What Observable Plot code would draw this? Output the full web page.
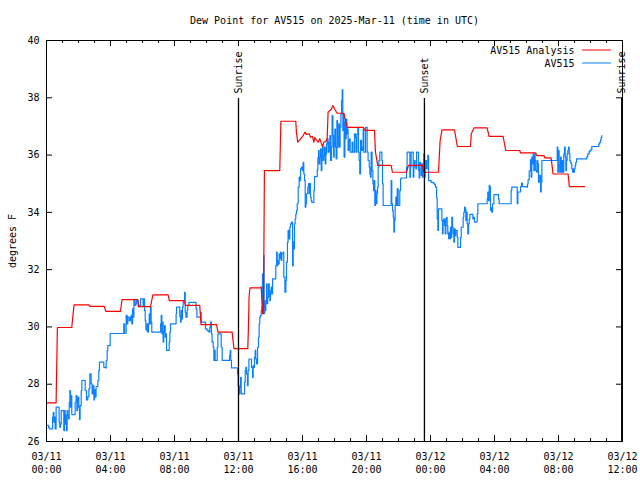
<!DOCTYPE html>
<html><head><meta charset="utf-8">
<script src="https://cdn.jsdelivr.net/npm/d3@7"></script>
<script src="https://cdn.jsdelivr.net/npm/@observablehq/plot@0.6"></script>
<style>body{margin:0;background:#fff}#chart svg{display:block}</style>
</head><body><div id="chart"></div>
<script>
const title = "Dew Point for AV515 on 2025-Mar-11 (time in UTC)";
const yLabel = "degrees F";
const startDate = "2025-03-11T00:00:00Z";
const spanHours = 36;
const yTicks = [26, 28, 30, 32, 34, 36, 38, 40];
const xMajorHours = [0, 4, 8, 12, 16, 20, 24, 28, 32, 36];
const xMinorHours = [1, 2, 3, 5, 6, 7, 9, 10, 11, 13, 14, 15, 17, 18, 19, 21, 22, 23, 25, 26, 27, 29, 30, 31, 33, 34, 35];
const eventNames = ["Sunrise", "Sunset", "Sunrise"];
const eventHours = [12.0, 23.62, 35.95];
const seriesNames = ["AV515 Analysis", "AV515"];

// AV515 Analysis (hours since 03/11 00:00 UTC, degrees F)
const analysisHours = [0, 0.6, 0.68, 1.58, 1.72, 2.65, 2.7, 3.6, 3.72, 4.62, 4.72, 5.7, 5.75, 6.5, 6.65, 7.6, 7.68, 8.58, 8.7, 9.58, 9.62, 9.66, 10.63, 10.72, 11.6, 11.72, 12.58, 12.62, 12.66, 12.72, 13.38, 13.42, 13.5, 13.56, 13.62, 14.58, 14.65, 15.58, 15.62, 15.7, 15.83, 16.04, 16.15, 16.25, 16.42, 16.5, 16.62, 16.71, 16.77, 16.88, 16.98, 17.08, 17.19, 17.25, 17.33, 17.46, 17.54, 17.6, 17.8, 17.9, 18.0, 18.17, 18.58, 18.8, 19.79, 19.92, 20.5, 20.56, 20.7, 21.54, 21.62, 22.5, 22.62, 23.5, 23.58, 24.5, 24.6, 24.72, 25.5, 25.68, 26.5, 26.55, 26.72, 27.54, 27.66, 28.54, 28.7, 29.58, 29.62, 30.56, 30.66, 31.1, 31.15, 31.54, 31.66, 32.6, 32.68, 33.64];
const analysisValues = [27.35, 27.35, 29.98, 29.98, 30.77, 30.77, 30.72, 30.72, 30.54, 30.54, 30.95, 30.95, 30.71, 30.71, 31.12, 31.12, 30.92, 30.92, 30.75, 30.75, 30.38, 30.08, 30.08, 29.82, 29.82, 29.24, 29.24, 29.95, 31.04, 31.36, 31.36, 31.4, 30.46, 30.46, 35.46, 35.46, 37.18, 37.18, 36.8, 36.45, 36.53, 36.68, 36.8, 36.72, 36.74, 36.62, 36.65, 36.45, 36.62, 36.51, 36.45, 36.57, 36.39, 36.3, 36.45, 36.48, 36.57, 37.5, 37.6, 37.73, 37.61, 37.46, 37.46, 36.97, 36.97, 36.86, 36.86, 36.1, 35.64, 35.64, 35.4, 35.4, 35.64, 35.64, 35.4, 35.4, 36.5, 36.88, 36.88, 36.3, 36.3, 36.74, 36.95, 36.95, 36.65, 36.65, 36.16, 36.16, 36.08, 36.08, 35.98, 35.98, 35.9, 35.9, 35.34, 35.34, 34.9, 34.9];

// AV515 observations
const obsHours = [0.04, 0.13, 0.19, 0.38, 0.42, 0.46, 0.5, 0.54, 0.6, 0.79, 0.83, 0.88, 0.92, 1.08, 1.13, 1.17, 1.21, 1.25, 1.29, 1.33, 1.38, 1.42, 1.46, 1.5, 1.54, 1.58, 1.79, 1.85, 1.9, 1.94, 1.98, 2.02, 2.06, 2.1, 2.17, 2.21, 2.42, 2.5, 2.58, 2.65, 2.71, 2.79, 2.85, 2.92, 2.96, 3.0, 3.06, 3.1, 3.21, 3.27, 3.31, 3.58, 3.69, 3.73, 3.79, 3.83, 3.98, 4.83, 4.88, 4.98, 5.04, 5.08, 5.17, 5.25, 5.29, 5.33, 5.38, 5.42, 5.46, 5.54, 5.58, 5.63, 5.75, 5.88,
  6.04, 6.08, 6.13, 6.17, 6.21, 6.25, 6.29, 6.33, 6.38, 6.42, 6.46, 6.5, 6.54, 6.58, 7.13, 7.17, 7.21, 7.25, 7.29, 7.33, 7.38, 7.42, 7.46, 7.5, 7.67, 7.71, 7.75, 8.1, 8.13, 8.33, 8.38, 8.42, 8.46, 8.5, 8.54, 8.58, 8.63, 8.67, 8.71, 8.79, 8.83, 8.9, 9.35, 9.4, 9.63, 9.67, 9.94, 10.04, 10.15, 10.21, 10.25, 10.31, 10.35, 10.42, 10.46, 10.5, 10.54, 10.67, 10.71, 10.92, 10.98, 11.44, 11.48, 11.52, 11.56,
  11.94, 11.98, 12.04, 12.08, 12.13, 12.17, 12.38, 12.42, 12.46, 12.5, 12.56, 12.6, 12.65, 12.81, 12.88, 12.92, 12.96, 13.0, 13.04, 13.08, 13.13, 13.19, 13.25, 13.29, 13.33, 13.38, 13.42, 13.46, 13.5, 13.54, 13.58, 13.6, 13.63, 13.67, 13.71, 13.75, 13.79, 13.83, 13.88, 13.92, 13.96, 14.0, 14.04, 14.08, 14.13, 14.33, 14.38, 14.42, 14.46, 14.5, 14.54, 14.58, 14.63, 14.67, 14.71, 14.79, 14.83, 14.9, 14.96, 15.0, 15.06, 15.1, 15.15, 15.21, 15.25, 15.31, 15.38, 15.42, 15.46, 15.5, 15.54, 15.58, 15.63, 15.67,
  15.73, 15.79, 15.83, 15.88, 15.94, 16.0, 16.04, 16.08, 16.13, 16.17, 16.21, 16.25, 16.33, 16.38, 16.42, 16.46, 16.5, 16.54, 16.58, 16.71, 16.75, 16.92, 16.96, 17.0, 17.04, 17.08, 17.13, 17.17, 17.21, 17.25, 17.29, 17.33, 17.38, 17.42, 17.46, 17.5, 17.54, 17.6, 17.67, 17.71,
  17.75, 17.81, 17.85, 17.9, 17.94, 17.98, 18.02, 18.06, 18.1, 18.15, 18.19, 18.23, 18.27, 18.31, 18.35, 18.4, 18.44, 18.48, 18.52, 18.56, 18.6, 18.65, 18.69, 18.73, 18.77, 18.81, 18.85, 18.9, 18.94, 18.98, 19.1, 19.15, 19.25, 19.31, 19.35, 19.4, 19.46, 19.5, 19.54, 19.58, 19.63, 19.69, 19.75, 19.79, 19.83, 19.94, 20.04, 20.1, 20.17, 20.21, 20.25, 20.29, 20.35, 20.4, 20.44, 20.48, 20.52, 20.56, 20.6, 20.65, 20.69, 20.73, 20.77, 20.83, 20.96, 21.0, 21.04, 21.54, 21.58, 21.63, 21.67, 21.71, 21.75, 21.79, 21.83, 21.88, 21.92, 21.98, 22.08, 22.13, 22.17, 22.5, 22.54, 22.71, 22.75, 22.79, 22.92, 22.96, 23.0, 23.04, 23.08, 23.13, 23.25, 23.29, 23.33,
  23.38, 23.42, 23.46, 23.5, 23.54, 23.58, 23.63, 23.67, 23.71, 23.75, 23.79, 23.83, 23.88, 24.04, 24.17, 24.25, 24.31, 24.38, 24.42, 24.46, 24.5, 24.71, 24.75, 24.79, 24.83, 24.88, 24.92, 24.96, 25.0, 25.04, 25.08, 25.13, 25.17, 25.21, 25.25, 25.29, 25.33, 25.38, 25.42, 25.46, 25.5, 25.54, 25.58, 25.67, 25.71, 25.88, 25.92, 26.04, 26.08, 26.13, 26.17, 26.21, 26.25, 26.29, 26.33, 26.38, 26.42, 26.46, 26.65, 26.71, 26.75, 26.92, 26.96, 27.54, 27.58, 27.63, 27.67, 27.71, 27.75, 27.79, 27.83, 27.88, 27.96, 28.25, 28.29, 29.04, 29.08, 29.42, 29.46, 29.63, 29.69, 29.75, 30.0, 30.06, 30.1, 30.17, 30.21, 30.25, 30.29, 30.33, 30.38, 30.42, 30.46, 30.5, 30.54, 30.58, 30.63, 30.67, 30.71, 30.75, 30.79, 30.83, 30.88, 30.92, 30.96, 31.92, 31.96, 32.0, 32.04, 32.08, 32.13, 32.17, 32.23, 32.29, 32.33, 32.38, 32.42, 32.46, 32.5, 32.54, 32.58, 32.63, 32.67, 32.71, 32.75, 32.79, 32.83, 32.88, 32.92, 32.96, 33.0, 33.04, 33.08, 33.13, 33.75, 33.83, 33.92, 34.0, 34.08, 34.52, 34.58, 34.63, 34.67, 34.71];
const obsValues = [26.56, 26.48, 26.44, 26.85, 27.02, 26.67, 26.85, 26.44, 27.2, 26.67, 26.5, 26.61, 27.08, 26.38, 27.08, 26.61, 26.91, 26.38, 27.08, 26.91, 26.79, 27.37, 27.78, 27.2, 27.6, 26.94, 27.37, 27.6, 27.08, 27.45, 27.55, 27.2, 26.76, 27.25, 27.78, 28.13, 27.78, 27.45, 27.57, 27.84, 28.36, 28.01, 27.66, 27.95, 27.45, 27.8, 27.55, 27.92, 28.13, 28.48, 28.77, 28.59, 28.57, 28.83, 29.17, 29.35, 29.77, 30.11, 29.78, 30.4, 30.11, 30.34, 30.22, 30.34, 30.4, 30.11, 30.63, 30.34, 30.92, 30.75, 30.8, 30.92, 30.75, 30.98,
  30.71, 30.98, 30.57, 30.22, 29.93, 29.87, 30.11, 29.82, 30.11, 30.46, 30.11, 30.69, 30.17, 29.82, 30.11, 30.4, 29.76, 30.17, 29.47, 29.82, 30.05, 29.64, 29.76, 29.18, 29.47, 29.82, 30.11, 30.46, 30.69, 30.36, 30.17, 30.57, 30.28, 30.69, 30.86, 30.92, 31.21, 30.51, 30.34, 30.6, 30.75, 30.86, 30.63, 30.34, 30.51, 30.17, 29.93, 29.87, 29.82, 29.99, 30.17, 29.76, 29.47, 29.29, 28.83, 29.18, 28.83, 29.29, 29.76, 29.29, 28.83, 29.0, 29.18, 28.83, 28.57,
  28.36, 27.95, 27.66, 27.89, 28.24, 27.66, 28.07, 28.48, 28.59, 28.36, 27.95, 28.48, 28.88, 28.59, 28.24, 28.65, 28.59, 28.94, 29.18, 28.88, 28.71, 29.29, 29.64, 30.11, 30.34, 30.4, 30.57, 30.69, 31.85, 31.39, 32.49, 30.46, 30.92, 30.57, 30.81, 31.5, 30.81, 31.04, 31.5, 31.27, 30.92, 31.15, 31.39, 31.15, 31.68, 32.14, 32.61, 32.14, 32.32, 32.2, 32.55, 32.38, 32.61, 32.32, 32.55, 32.61, 31.74, 31.21, 31.62, 32.26, 32.96, 33.37, 33.07, 33.48, 33.6, 33.66, 32.14, 32.96, 32.72, 33.6, 33.77, 33.95, 34.06, 34.3,
  34.88, 35.23, 35.11, 35.52, 35.58, 35.46, 35.75, 35.34, 35.11, 34.18, 34.3, 34.65, 34.88, 35.0, 34.65, 35.0, 34.53, 34.41, 34.35, 34.76, 35.25, 35.48, 35.9, 36.16, 35.69, 35.93, 36.22, 35.46, 35.98, 36.33, 35.81, 35.98, 36.28, 35.69, 36.04, 36.39, 36.57, 36.1, 36.45, 36.68,
  35.81, 36.28, 37.38, 36.68, 35.93, 36.39, 36.91, 36.28, 35.87, 37.2, 36.28, 36.62, 37.09, 36.28, 36.97, 37.44, 37.9, 38.28, 36.86, 37.44, 35.93, 37.15, 36.57, 37.26, 36.74, 36.91, 36.16, 36.51, 36.57, 36.1, 36.45, 36.1, 36.74, 36.62, 36.1, 36.74, 36.97, 36.1, 35.81, 35.34, 36.51, 36.16, 36.28, 36.91, 36.1, 36.97, 36.1, 35.81, 35.58, 35.34, 35.23, 36.1, 35.46, 35.0, 34.76, 35.11, 34.24, 34.76, 34.3, 34.65, 34.88, 35.58, 35.81, 36.1, 35.81, 35.0, 34.24, 35.11, 34.3, 34.06, 33.83, 33.31, 33.72, 34.24, 34.53, 34.24, 34.82, 34.24, 34.76, 35.17, 35.2, 35.58, 36.1, 35.23, 35.58, 36.1, 35.23, 35.58, 35.81, 35.64, 35.52, 36.1, 35.46, 35.2, 35.75,
  35.64, 35.29, 35.69, 35.23, 35.58, 36.04, 35.23, 35.69, 35.81, 35.52, 35.75, 35.99, 35.11, 35.05, 35.02, 34.97, 34.88, 34.51, 33.77, 33.37, 34.12, 33.72, 33.25, 33.66, 33.77, 33.54, 33.25, 33.77, 33.83, 33.54, 33.25, 33.08, 33.31, 33.08, 33.48, 33.13, 33.83, 33.48, 33.25, 32.96, 33.42, 33.19, 33.37, 33.13, 32.78, 33.13, 33.48, 33.83, 34.01, 34.18, 34.12, 33.72, 34.01, 33.6, 33.25, 33.6, 33.77, 33.93, 33.77, 33.83, 33.66, 33.95, 34.3, 34.47, 34.71, 34.41, 34.94, 34.88, 34.07, 34.16, 34.01, 34.3, 34.62, 34.47, 34.3, 34.76, 34.88, 34.3, 34.71, 34.9, 35.02, 34.9, 34.88, 34.99, 35.14, 35.44, 35.46, 35.83, 35.23, 35.93, 35.69, 36.04, 35.46, 36.04, 35.81, 35.46, 35.4, 35.81, 35.69, 35.05, 35.11, 35.29, 34.71, 35.05, 35.81, 36.28, 35.4, 36.16, 35.64, 35.4, 35.93, 35.4, 35.81, 35.4, 36.04, 36.28, 35.93, 35.46, 35.81, 36.04, 36.16, 36.28, 36.04, 35.81, 35.75, 35.69, 35.52, 35.4, 35.52, 35.4, 35.52, 35.64, 35.75, 35.87, 35.93, 36.04, 36.14, 36.18, 36.3, 36.39, 36.45, 36.53, 36.62, 36.68];

const t0 = Date.parse(startDate);
const toDate = h => new Date(t0 + h * 3600000);
const analysis = analysisHours.map((h, i) => ({t: toDate(h), v: analysisValues[i]}));
const obs = obsHours.map((h, i) => ({t: toDate(h), v: obsValues[i]}));
const events = eventHours.map((h, i) => ({t: toDate(h), name: eventNames[i]}));
const xMajor = xMajorHours.map(toDate);
const xMinor = xMinorHours.map(toDate);

const W = 640, H = 480, mt = 40, mb = 39, ml = 46, mr = 18;
const innerW = W - ml - mr, innerH = H - mt - mb;
const fmtDay = d3.utcFormat("%m/%d"), fmtTime = d3.utcFormat("%H:%M");
const lineShape = {draw(ctx, l) { ctx.moveTo(0, 0); ctx.lineTo(0, -l); }};
const red = "#ff0000", blue = "#0a80ff";

const chart = Plot.plot({
  width: W, height: H,
  marginTop: mt, marginBottom: mb, marginLeft: ml, marginRight: mr,
  style: {fontFamily: "'DejaVu Sans Mono', monospace", fontSize: "10px", background: "white", color: "black"},
  x: {type: "utc", domain: [toDate(0), toDate(spanHours)]},
  y: {domain: [26, 40]},
  marks: [
    Plot.line(obs, {x: "t", y: "v", stroke: blue, strokeWidth: 1.2, curve: "step-after"}),
    Plot.line(analysis, {x: "t", y: "v", stroke: red, strokeWidth: 1.2}),
    Plot.ruleX(events, {x: "t", stroke: "black", strokeWidth: 1.3, insetTop: 58}),
    Plot.text(events, {x: "t", text: "name", frameAnchor: "top", dy: 53, rotate: -90, textAnchor: "start", lineAnchor: "middle", fill: "black"}),
    Plot.tickX(xMajor, {x: d => d, insetTop: innerH - 6, stroke: "black"}),
    Plot.tickX(xMajor, {x: d => d, insetBottom: innerH - 6, stroke: "black"}),
    Plot.tickX(xMinor, {x: d => d, insetTop: innerH - 3, stroke: "black"}),
    Plot.tickX(xMinor, {x: d => d, insetBottom: innerH - 3, stroke: "black"}),
    Plot.tickY(yTicks, {y: d => d, insetRight: innerW - 6, stroke: "black"}),
    Plot.tickY(yTicks, {y: d => d, insetLeft: innerW - 6, stroke: "black"}),
    Plot.axisX(xMajor, {tickSize: 0, tickPadding: 9, label: null, lineHeight: 1.3, tickFormat: d => fmtDay(d) + "\n" + fmtTime(d)}),
    Plot.axisY(yTicks, {tickSize: 0, tickPadding: 7, label: null, tickFormat: d => String(d)}),
    Plot.frame({stroke: "black"}),
    Plot.text([title], {frameAnchor: "top", dy: -20, lineAnchor: "middle", textAnchor: "middle", fill: "black"}),
    Plot.text([yLabel], {frameAnchor: "left", dx: -34, rotate: -90, lineAnchor: "middle", textAnchor: "middle", fill: "black"}),
    Plot.text([seriesNames[0]], {frameAnchor: "top-right", dx: -48, dy: 10, textAnchor: "end", lineAnchor: "middle", fill: "black"}),
    Plot.text([seriesNames[1]], {frameAnchor: "top-right", dx: -48, dy: 23, textAnchor: "end", lineAnchor: "middle", fill: "black"}),
    Plot.vector([seriesNames[0]], {frameAnchor: "top-right", dx: -40, dy: 9.5, length: 28, rotate: 90, anchor: "start", shape: lineShape, stroke: red, strokeWidth: 1.2}),
    Plot.vector([seriesNames[1]], {frameAnchor: "top-right", dx: -40, dy: 22.5, length: 28, rotate: 90, anchor: "start", shape: lineShape, stroke: blue, strokeWidth: 1.2})
  ]
});
document.getElementById("chart").append(chart);
</script>
</body></html>
